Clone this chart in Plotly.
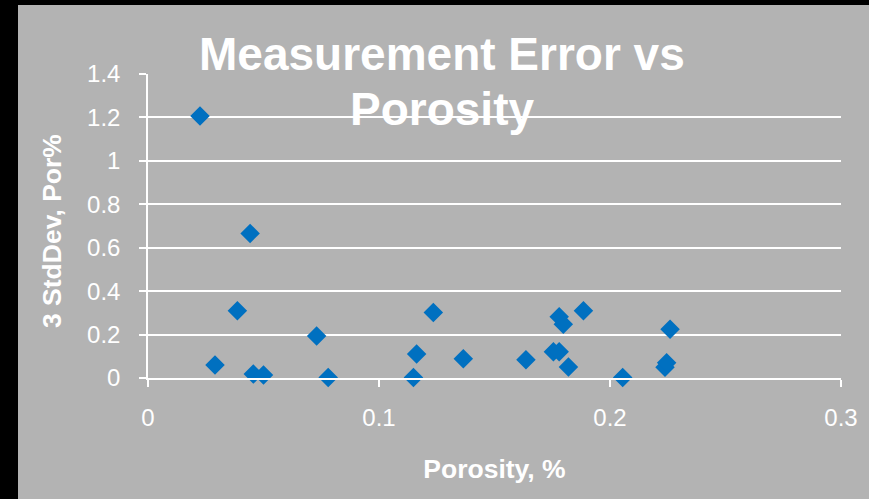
import plotly.graph_objects as go

porosity = [0.0225, 0.029, 0.0387, 0.0442, 0.0456, 0.050, 0.073, 0.078, 0.1149, 0.1163,
            0.1235, 0.1365, 0.1636, 0.1755, 0.178, 0.178, 0.1798, 0.182, 0.1885, 0.2055,
            0.2238, 0.2245, 0.226]
stddev3 = [1.207, 0.06, 0.31, 0.666, 0.018, 0.014, 0.193, 0.002, 0.002, 0.11,
           0.302, 0.089, 0.084, 0.121, 0.121, 0.282, 0.247, 0.051, 0.31, 0.002,
           0.049, 0.07, 0.224]

title_lines = ["Measurement Error vs", "Porosity"]
x_title = "Porosity, %"
y_title = "3 StdDev, Por%"

GRAY = "#b3b3b3"
FONT = "Liberation Sans, Arial, sans-serif"

fig = go.Figure()
fig.add_trace(go.Scatter(
    x=porosity, y=stddev3, mode="markers",
    marker=dict(symbol="diamond", size=15, color="#0070C0", line=dict(width=0)),
    showlegend=False, cliponaxis=False,
))

W, H = 869, 499
L, R, T, B = 148, 28, 74, 121
pw, ph = W - L - R, H - T - B

def px_x(p):
    return (p - L) / pw

def px_y(p):
    return 1 - (p - T) / ph

fig.update_layout(
    width=W, height=H,
    margin=dict(l=L, r=R, t=T, b=B, pad=0),
    paper_bgcolor=GRAY, plot_bgcolor=GRAY,
    font=dict(family=FONT, color="white"),
    xaxis=dict(
        range=[0, 0.3], dtick=0.1, tick0=0, showgrid=False, zeroline=False,
        showline=True, linecolor="white", linewidth=1.5,
        ticks="outside", ticklen=7, tickcolor="white", tickwidth=1.5,
        tickfont=dict(size=24, color="white"), ticklabelstandoff=10,
        title=dict(text="<b>%s</b>" % x_title, font=dict(size=26.5, color="white"), standoff=30),
        tickformat="~g",
    ),
    yaxis=dict(
        range=[0, 1.4], dtick=0.2, tick0=0, showgrid=True, gridcolor="white", gridwidth=1.5,
        zeroline=False, showline=True, linecolor="white", linewidth=1.5,
        ticks="outside", ticklen=7, tickcolor="white", tickwidth=1.5,
        tickfont=dict(size=24, color="white"), ticklabelstandoff=14,
        tickformat="~g",
    ),
    shapes=[
        dict(type="rect", xref="paper", yref="paper", x0=px_x(-2), x1=px_x(18),
             y0=px_y(-2), y1=px_y(H + 2), fillcolor="black", line=dict(width=0)),
        dict(type="rect", xref="paper", yref="paper", x0=px_x(-2), x1=px_x(W + 2),
             y0=px_y(-2), y1=px_y(5), fillcolor="black", line=dict(width=0)),
    ],
    annotations=[
        dict(text="<b>%s</b>" % title_lines[0], xref="paper", yref="paper",
             x=px_x(442), y=px_y(54), xanchor="center", yanchor="middle",
             showarrow=False, font=dict(size=46, color="white", family=FONT)),
        dict(text="<b>%s</b>" % title_lines[1], xref="paper", yref="paper",
             x=px_x(442), y=px_y(109), xanchor="center", yanchor="middle",
             showarrow=False, font=dict(size=46, color="white", family=FONT)),
        dict(text="<b>%s</b>" % y_title, xref="paper", yref="paper",
             x=px_x(52), y=px_y(231), xanchor="center", yanchor="middle", textangle=-90,
             showarrow=False, font=dict(size=26.5, color="white", family=FONT)),
    ],
)

fig.write_html("out.html", config={"displayModeBar": False},
               post_script="document.body.style.margin='0';document.body.style.overflow='hidden';")
